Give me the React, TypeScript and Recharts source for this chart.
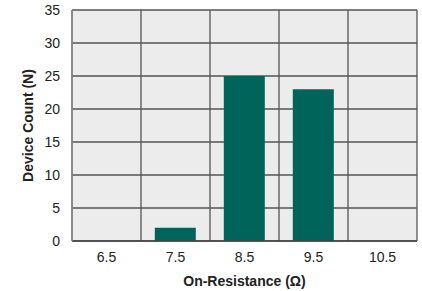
import { BarChart, Bar, XAxis, YAxis, CartesianGrid, Label } from "recharts";

const categories = ["6.5", "7.5", "8.5", "9.5", "10.5"];
const deviceCounts = [0, 2, 25, 23, 0];
const yTicks = [0, 5, 10, 15, 20, 25, 30, 35];

const data = categories.map((c, i) => ({ bin: c, count: deviceCounts[i] }));

const FONT = "'Liberation Sans', Arial, Helvetica, sans-serif";

// vertical grid lines sit on the bin edges, not on the bin centres
const binEdgeLines = ({ offset }: any) => {
  const step = offset.width / categories.length;
  return categories.map((_, i) => offset.left + i * step).concat(offset.left + offset.width);
};

export default function App() {
  return (
    <div style={{ position: "absolute", left: 0, top: 0 }}>
      <BarChart
        width={422}
        height={291}
        data={data}
        margin={{ top: 10, right: 5, left: 0, bottom: 0 }}
        barCategoryGap="20%"
        style={{ fontFamily: FONT }}
      >
        <CartesianGrid
          stroke="#555"
          strokeWidth={1.3}
          fill="#ececec"
          fillOpacity={1}
          verticalCoordinatesGenerator={binEdgeLines}
        />
        <XAxis
          dataKey="bin"
          height={50}
          tickLine={false}
          tickMargin={5}
          axisLine={{ stroke: "#444", strokeWidth: 1.5 }}
          tick={{ fill: "#222", fontSize: 14 }}
        >
          <Label
            value="On-Resistance (Ω)"
            position="insideBottom"
            offset={5}
            style={{ fill: "#222", fontSize: 14, fontWeight: "bold" }}
          />
        </XAxis>
        <YAxis
          width={72}
          domain={[0, 35]}
          ticks={yTicks}
          tickLine={false}
          tickMargin={6}
          axisLine={{ stroke: "#888", strokeWidth: 1.5 }}
          tick={{ fill: "#222", fontSize: 14 }}
        >
          <Label
            value="Device Count (N)"
            angle={-90}
            position="insideLeft"
            offset={28}
            style={{ textAnchor: "middle", fill: "#222", fontSize: 14, fontWeight: "bold" }}
          />
        </YAxis>
        <Bar dataKey="count" fill="#00645a" isAnimationActive={false} />
      </BarChart>
    </div>
  );
}
